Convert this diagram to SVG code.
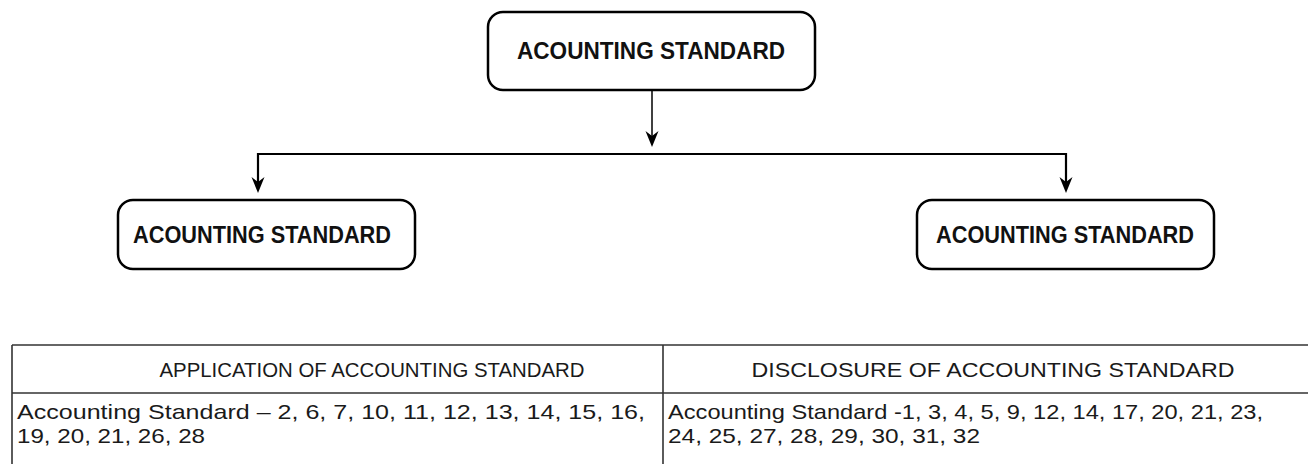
<svg xmlns="http://www.w3.org/2000/svg" width="1308" height="464" viewBox="0 0 1308 464">
<style>
.box{fill:#fff;stroke:#000;stroke-width:2.5}
.bt{font-family:"Liberation Sans",Arial,sans-serif;font-weight:bold;font-size:23px;fill:#111;text-anchor:middle}
.conn{fill:none;stroke:#000;stroke-width:1.5}
.hconn{fill:none;stroke:#000;stroke-width:2.2}
.tl{stroke:#333;stroke-width:1.6;fill:none}
.th{font-family:"Liberation Sans",Arial,sans-serif;font-size:21px;fill:#1a1a1a;text-anchor:middle}
.td{font-family:"Liberation Sans",Arial,sans-serif;font-size:21px;fill:#1a1a1a}
.ah{fill:#000}
</style>
<g id="connectors">
<line class="conn" x1="652" y1="90" x2="652" y2="140"/>
<path class="hconn" d="M258,186 V154 H1066 V186"/>
<path class="ah" d="M645.5,131 L652,136 L658.5,131 L652,147 Z"/>
<path class="ah" d="M251.5,177 L258,182 L264.5,177 L258,193 Z"/>
<path class="ah" d="M1059.5,177 L1066,182 L1072.5,177 L1066,193 Z"/>
</g>
<g id="node-top">
<rect class="box" x="488" y="12" width="327" height="78" rx="15"/>
<text class="bt" x="651" y="59" textLength="268" lengthAdjust="spacingAndGlyphs">ACOUNTING STANDARD</text>
</g>
<g id="node-left">
<rect class="box" x="118" y="200" width="297" height="69" rx="15"/>
<text class="bt" x="262" y="243" textLength="258" lengthAdjust="spacingAndGlyphs">ACOUNTING STANDARD</text>
</g>
<g id="node-right">
<rect class="box" x="917" y="200" width="297" height="69" rx="15"/>
<text class="bt" x="1065" y="243" textLength="258" lengthAdjust="spacingAndGlyphs">ACOUNTING STANDARD</text>
</g>
<g id="table">
<line class="tl" x1="12" y1="345" x2="1308" y2="345"/>
<line class="tl" x1="12" y1="393" x2="1308" y2="393"/>
<line class="tl" x1="12" y1="345" x2="12" y2="464"/>
<line class="tl" x1="663" y1="345" x2="663" y2="464"/>
<text class="th" x="372" y="377" textLength="425" lengthAdjust="spacingAndGlyphs">APPLICATION OF ACCOUNTING STANDARD</text>
<text class="th" x="993" y="377" textLength="483" lengthAdjust="spacingAndGlyphs">DISCLOSURE OF ACCOUNTING STANDARD</text>
<text class="td" x="17" y="419" textLength="628" lengthAdjust="spacingAndGlyphs">Accounting Standard – 2, 6, 7, 10, 11, 12, 13, 14, 15, 16,</text>
<text class="td" x="17" y="443" textLength="188" lengthAdjust="spacingAndGlyphs">19, 20, 21, 26, 28</text>
<text class="td" x="668" y="419" textLength="595" lengthAdjust="spacingAndGlyphs">Accounting Standard -1, 3, 4, 5, 9, 12, 14, 17, 20, 21, 23,</text>
<text class="td" x="668" y="443" textLength="312" lengthAdjust="spacingAndGlyphs">24, 25, 27, 28, 29, 30, 31, 32</text>
</g>
</svg>
